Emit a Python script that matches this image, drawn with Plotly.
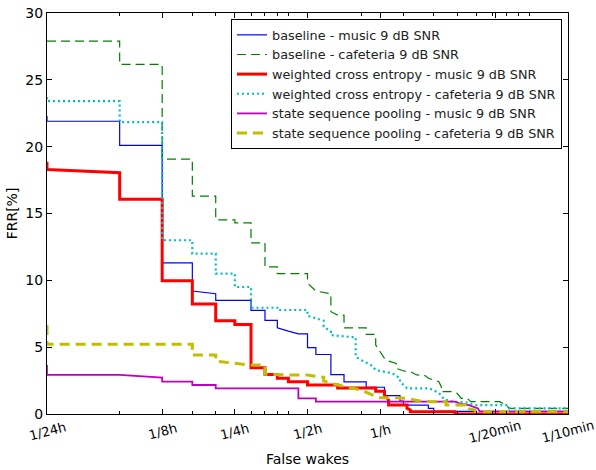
import numpy as np
import plotly.graph_objects as go

# ---- axis ticks (x = number of false wakes in a 24 h test set) ----
tick_vals = [1, 3, 6, 12, 24, 72, 144]
tick_text = ["1/24h", "1/8h", "1/4h", "1/2h", "1/h", "1/20min", "1/10min"]
minor_vals = [2, 4, 5, 7, 8, 9, 10, 20, 30, 40, 50, 60, 70, 80, 90, 100]
y_ticks = [0, 5, 10, 15, 20, 25, 30]

series_names = [
    "baseline - music 9 dB SNR",
    "baseline - cafeteria 9 dB SNR",
    "weighted cross entropy - music 9 dB SNR",
    "weighted cross entropy - cafeteria 9 dB SNR",
    "state sequence pooling - music 9 dB SNR",
    "state sequence pooling - cafeteria 9 dB SNR",
]

# baseline - music
bm_x = [1, 1, 2, 2, 3, 3, 4, 4, 5, 5, 7, 7, 8, 8, 9, 9, 10, 11, 12, 12, 13, 13,
        15, 15, 17, 17, 21, 21, 25, 25, 29, 29, 30, 30, 38, 38, 40, 40, 60, 60, 144]
bm_y = [22.3, 21.9, 21.9, 20.1, 20.1, 11.3, 11.3, 9.2, 9.0, 8.5, 8.5, 7.75, 7.75, 7.0,
        7.0, 6.45, 6.2, 6.0, 6.0, 4.96, 4.96, 4.45, 4.45, 2.95, 2.95, 2.4, 2.4, 2.0,
        2.0, 1.37, 1.37, 0.97, 0.97, 0.67, 0.67, 0.42, 0.42, 0.2, 0.2, 0.0, 0.0]

# baseline - cafeteria
bc_x = [1, 2, 2, 3, 3, 4, 4, 5, 5, 6, 6, 7, 7, 8, 8, 9, 9, 12, 12, 13, 15, 15, 16,
        17, 17, 21, 21, 23, 23, 25, 26, 28, 28, 30, 32, 34, 37, 38, 40, 42, 43, 43,
        48, 50, 52, 55, 57, 75, 80, 82, 144]
bc_y = [27.9, 27.9, 26.15, 26.15, 19.07, 19.07, 16.3, 16.3, 14.53, 14.53, 14.3, 14.3,
        12.8, 12.8, 11.0, 11.0, 10.5, 10.5, 9.8, 9.2, 9.0, 7.65, 7.4, 7.4, 6.45, 6.45,
        5.96, 5.96, 5.16, 4.16, 3.96, 3.79, 3.42, 3.22, 3.16, 2.92, 2.86, 2.67, 2.54,
        2.42, 2.04, 1.67, 1.67, 1.55, 1.17, 1.17, 0.92, 0.92, 0.67, 0.42, 0.42]

# weighted cross entropy - music
wm_x = [1, 1, 2, 2, 3, 3, 4, 4, 5, 5, 6, 6, 7, 7, 8, 8, 9, 9, 10, 10, 12, 12, 16,
        16, 23, 23, 25, 25, 26, 26, 31, 31, 32, 32, 49, 49, 144]
wm_y = [18.87, 18.3, 18.05, 16.06, 16.06, 9.97, 9.97, 8.23, 8.23, 6.98, 6.98, 6.7,
        6.7, 3.46, 3.46, 2.95, 2.95, 2.67, 2.67, 2.42, 2.42, 2.17, 2.17, 1.95, 1.95,
        1.7, 1.7, 1.42, 1.05, 0.67, 0.67, 0.42, 0.3, 0.17, 0.17, 0.0, 0.0]

# weighted cross entropy - cafeteria
wc_x = [1, 1, 2, 2, 3, 3, 4, 4, 5, 5, 6, 6, 7, 7, 9, 9, 12, 12, 14, 14, 15, 15, 19,
        19, 20, 22, 23, 25, 27, 29, 29, 30, 31, 38, 40, 43, 44, 48, 55, 60, 80, 82, 144]
wc_y = [23.7, 23.4, 23.4, 21.84, 21.84, 13.0, 13.0, 12.0, 12.0, 10.5, 10.5, 9.5, 9.5,
        7.95, 7.95, 7.78, 7.78, 7.35, 6.98, 6.53, 6.16, 5.9, 5.73, 4.29, 4.04, 3.66,
        3.29, 3.16, 3.04, 2.67, 2.42, 2.17, 1.92, 1.92, 1.8, 1.42, 1.1, 0.92, 0.85,
        0.67, 0.67, 0.42, 0.42]

# state sequence pooling - music
sm_x = [1, 1, 2, 3, 3, 4, 4, 5, 5, 11, 11, 13, 13, 49, 52, 56, 61, 62, 144]
sm_y = [3.66, 2.92, 2.92, 2.72, 2.42, 2.42, 2.17, 2.17, 1.92, 1.92, 1.17, 1.17, 0.92,
        0.92, 0.75, 0.67, 0.42, 0.2, 0.2]

# state sequence pooling - cafeteria
sc_x = [1, 1, 4, 4, 5, 5, 6, 7, 8, 8, 10, 12, 14, 14, 16, 18, 19, 20, 22, 24, 27, 31,
        35, 39, 45, 45, 54, 54, 59, 60, 144]
sc_y = [6.66, 5.21, 5.21, 4.41, 4.41, 3.96, 3.79, 3.66, 3.66, 2.97, 2.92, 2.92, 2.74,
        2.47, 2.17, 2.0, 1.92, 1.8, 1.47, 1.22, 1.22, 1.17, 0.97, 0.92, 0.92, 0.67,
        0.67, 0.42, 0.3, 0.17, 0.17]

all_x = [bm_x, bc_x, wm_x, wc_x, sm_x, sc_x]
all_y = [bm_y, bc_y, wm_y, wc_y, sm_y, sc_y]
styles = [
    dict(color="#0000ff", width=1.2, dash="solid"),
    dict(color="#008000", width=1.2, dash="9px,5px"),
    dict(color="#ff0000", width=3.0, dash="solid"),
    dict(color="#00bfbf", width=2.2, dash="2px,3px"),
    dict(color="#bf00bf", width=1.8, dash="solid"),
    dict(color="#bfbf00", width=3.0, dash="10px,6px"),
]

FONT = "DejaVu Sans"
fig = go.Figure()
for name, xs, ys, st in zip(series_names, all_x, all_y, styles):
    fig.add_trace(go.Scatter(x=xs, y=ys, mode="lines", name=name, line=st))

for v, t in zip(tick_vals, tick_text):
    fig.add_annotation(x=np.log10(v), y=-0.043, xref="x", yref="paper", text=t,
                       showarrow=False, textangle=-15, xanchor="center",
                       yanchor="middle", font=dict(family=FONT, size=13, color="black"))

fig.update_layout(
    width=596, height=470,
    margin=dict(l=47, r=28, t=13, b=56),
    paper_bgcolor="white", plot_bgcolor="white",
    font=dict(family=FONT, size=14, color="black"),
    showlegend=True,
    legend=dict(x=0.9885, y=0.985, xanchor="right", yanchor="top",
                bgcolor="white", bordercolor="black", borderwidth=1,
                font=dict(family=FONT, size=12.8, color="#222222"),
                itemwidth=30, tracegroupgap=0),
)
fig.update_xaxes(
    type="log", range=[0, np.log10(144)], automargin=False,
    tickmode="array", tickvals=tick_vals, showticklabels=False,
    ticks="inside", ticklen=5, tickcolor="black", tickwidth=1,
    minor=dict(tickmode="array", tickvals=minor_vals, ticks="inside",
               ticklen=3, tickcolor="black", showgrid=False),
    showline=True, linecolor="black", linewidth=1, mirror="ticks",
    showgrid=False, zeroline=False,
    title=dict(text="False wakes", font=dict(family=FONT, size=14), standoff=40),
)
fig.update_yaxes(
    range=[0, 30], tickmode="array", tickvals=y_ticks, automargin=False,
    ticks="inside", ticklen=5, tickcolor="black", tickwidth=1,
    tickfont=dict(family=FONT, size=14),
    showline=True, linecolor="black", linewidth=1, mirror="ticks",
    showgrid=False, zeroline=False,
    title=dict(text="FRR[%]", font=dict(family=FONT, size=14), standoff=4),
)

fig.write_html("out.html", config={"displayModeBar": False},
               post_script="document.body.style.margin='0';document.body.style.overflow='hidden';")
